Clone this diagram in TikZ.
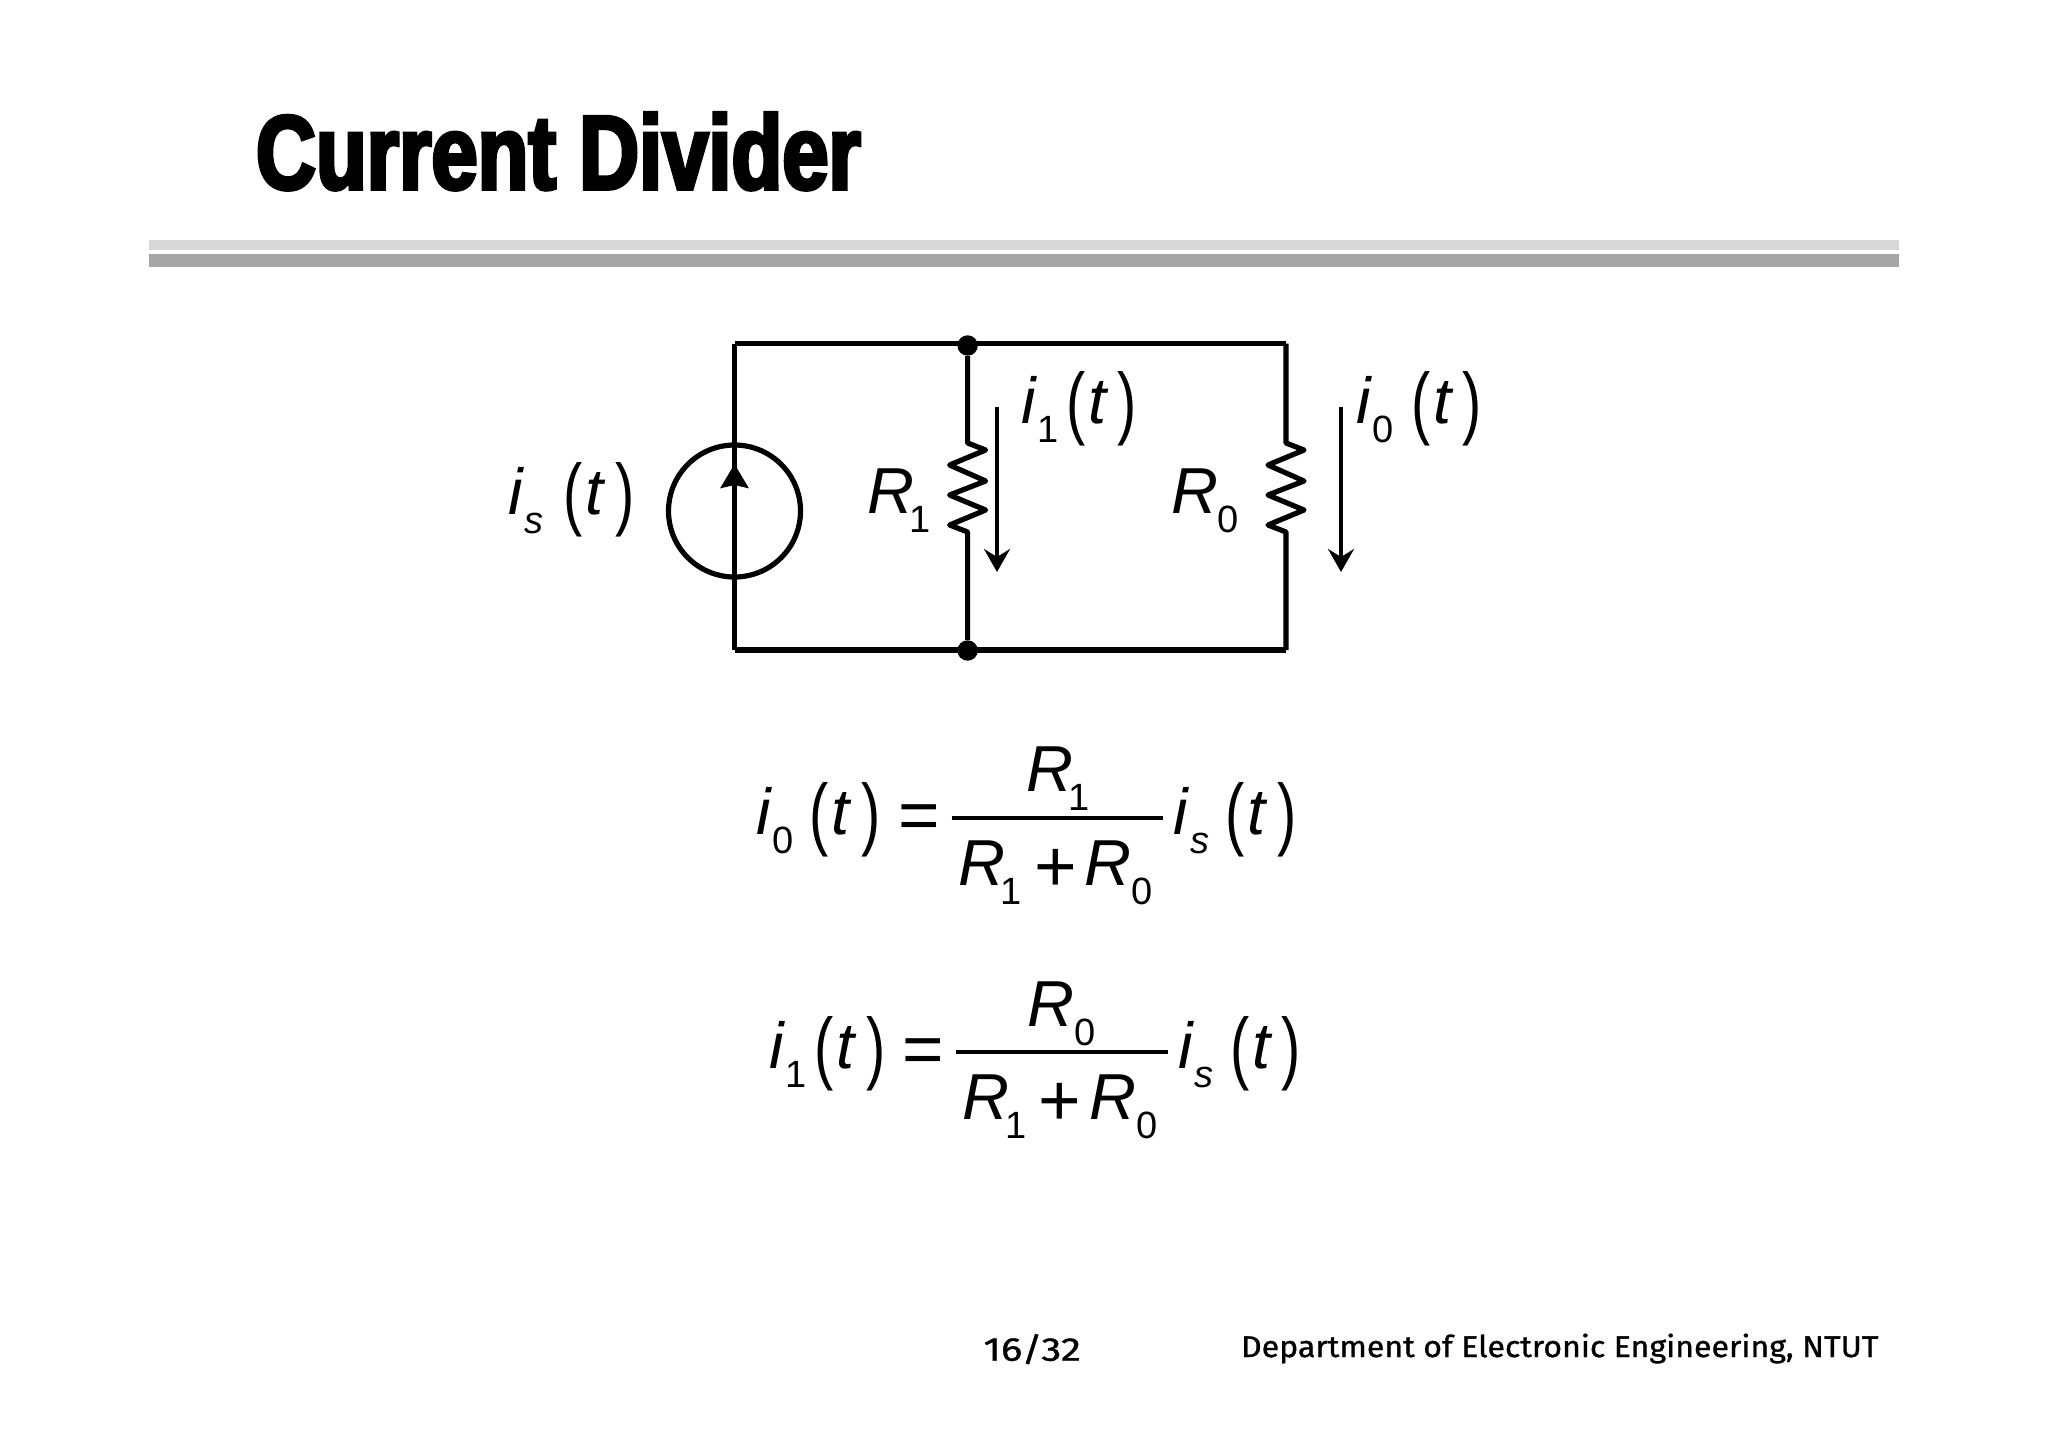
\documentclass[tikz,border=0pt]{standalone}
\usepackage{fontspec}
\setmainfont{Liberation Sans}
\newfontfamily\titlefont[FakeStretch=0.79,FakeBold=3.5,BoldFeatures={FakeStretch=0.79,FakeBold=3.5}]{Liberation Sans}
\newfontfamily\footfont[FakeBold=1,FakeStretch=1.07]{Fira Sans}
\newfontfamily\pagefont[FakeBold=1,FakeStretch=1.22]{Fira Sans}
\usetikzlibrary{arrows.meta}
\newcommand{\bigsize}{\fontsize{32.5}{34}\selectfont}
\newcommand{\subsize}{\fontsize{19}{20}\selectfont}
\newcommand{\parsize}{\fontsize{40}{44}\selectfont\addfontfeature{FakeStretch=0.72}}
\newcommand{\Sym}[2]{{\bigsize\itshape #1}\kern#2pt}
\newcommand{\Sub}[1]{\raisebox{-9.5pt}{\subsize\itshape #1}}
\newcommand{\SubN}[1]{\raisebox{-9.5pt}{\subsize #1}}
\newcommand{\ofT}[1]{\kern#1pt\raisebox{-3pt}{\parsize(}\kern1.6pt{\bigsize\itshape t}\kern5.6pt\raisebox{-3pt}{\parsize)}}
\newcommand{\Rone}{\Sym{R}{-2}\SubN{1}}
\newcommand{\Rzero}{\Sym{R}{0}\SubN{0}}
\newcommand{\Plus}{\kern6pt\raisebox{-3pt}{\fontsize{36.5}{38}\selectfont +}\kern4pt}
\newcommand{\Zig}{-- ++(18,7) -- ++(-36,15) -- ++(36,16) -- ++(-36,14) -- ++(36,15) -- ++(-36,15) -- ++(18,7)}
\tikzset{
	wire/.style={line width=2.6pt},
	term/.style={inner sep=0pt,outer sep=0pt,anchor=base west},
	jointdot/.style={circle,fill=black,minimum size=10.2pt,inner sep=0pt},
	flow/.style={line width=2.2pt,-{Stealth[length=11.5pt,width=13pt,inset=4pt]}},
	thinrule/.style={line width=2pt}
}
\begin{document}
\begin{tikzpicture}[x=0.5pt,y=-0.5pt]
	\useasboundingbox (0,0) rectangle (2048,1447);

	\node[term] (title) at (256,189) {\fontsize{52.6}{56}\titlefont\bfseries Current Divider};
	\fill[fill=black!15] (148.5,240) rectangle (1899,250);
	\fill[fill=black!35] (148.5,254) rectangle (1899,266.7);

	\coordinate (tl) at (734.5,343.5);
	\coordinate (tr) at (1286,343.5);
	\coordinate (bl) at (734.5,650);
	\coordinate (br) at (1286,650);
	\coordinate (r1t) at (967.6,443);
	\coordinate (r0t) at (1286,443);
	\coordinate (r1b) at (967.6,532);
	\coordinate (r0b) at (1286,532);
	\node[jointdot] (jt) at (967.6,345.5) {};
	\node[jointdot] (jb) at (967.6,650.5) {};
	\node[circle,draw,wire,minimum size=66pt,inner sep=0pt] (src) at (734.5,511) {};
	\coordinate (srctip) at (734.5,464);
	\coordinate (srcbase) at (734.5,490);

	\draw[wire] (tl) -- (tr);
	\draw[wire] (bl) -- (br);
	\draw[wire] (tl) -- (bl);
	\draw[wire,line join=round] (jt) -- (r1t) \Zig -- (jb);
	\draw[wire,line join=round] (tr) -- (r0t) \Zig -- (br);
	\draw[line width=2pt,-{Stealth[length=12pt,width=14pt,inset=1.5pt]}] (srcbase) -- (srctip);

	\coordinate (a1t) at (997,407);
	\coordinate (a1b) at (997,572);
	\coordinate (a0t) at (1341,407);
	\coordinate (a0b) at (1341,572);
	\draw[flow] (a1t) -- (a1b);
	\draw[flow] (a0t) -- (a0b);

	\node[term] (is) at (508,514) {\Sym{i}{1}\Sub{s}\ofT{10}};
	\node[term] (Ra) at (867,513) {\Rone};
	\node[term] (Rz) at (1171,513) {\Rzero};
	\node[term] (ia) at (1021,423) {\Sym{i}{1}\SubN{1}\ofT{3.8}};
	\node[term] (iz) at (1356,423) {\Sym{i}{1}\SubN{0}\ofT{8.8}};

	\node[term] (lhsa) at (756.4,834) {\Sym{i}{1}\SubN{0}\ofT{7.8}};
	\node[term] (eqa) at (898,839) {\fontsize{35.5}{40}\selectfont =};
	\coordinate (bara) at (951.5,817.7);
	\coordinate (barb) at (1163,817.7);
	\draw[thinrule] (bara) -- (barb);
	\node[term] (numa) at (1026,791.7) {\Rone};
	\node[term] (dena) at (958,885) {\Rone\Plus\Rzero};
	\node[term] (srca) at (1173.6,834) {\Sym{i}{1}\Sub{s}\ofT{8.2}};

	\node[term] (lhsb) at (769.4,1068.3) {\Sym{i}{1}\SubN{1}\ofT{3.8}};
	\node[term] (eqb) at (902.8,1073.3) {\fontsize{35.5}{40}\selectfont =};
	\coordinate (barc) at (956.3,1052);
	\coordinate (bard) at (1167.8,1052);
	\draw[thinrule] (barc) -- (bard);
	\node[term] (numb) at (1027.4,1026) {\Rzero};
	\node[term] (denb) at (962.8,1119.3) {\Rone\Plus\Rzero};
	\node[term] (srcb) at (1178.4,1068.3) {\Sym{i}{1}\Sub{s}\ofT{8.2}};

	\node[term] (page) at (983.5,1360.7) {\fontsize{16.5}{18}\pagefont 16/32};
	\node[term] (dept) at (1241,1357) {\fontsize{15}{18}\footfont Department of Electronic Engineering, NTUT};
\end{tikzpicture}
\end{document}
